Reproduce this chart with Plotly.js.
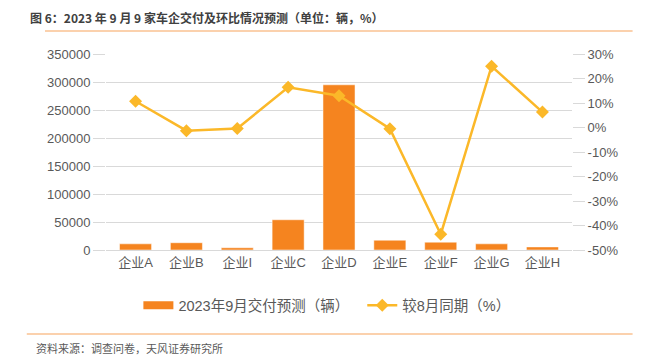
<!DOCTYPE html>
<html>
<head>
<meta charset="utf-8">
<script src="https://cdn.plot.ly/plotly-3.0.1.min.js"></script>
<style>html,body{margin:0;padding:0;background:#fff;}#chart{width:649px;height:361px;}</style>
</head>
<body>
<div id="chart"></div>
<script>
const categories = ["企业A","企业B","企业I","企业C","企业D","企业E","企业F","企业G","企业H"];
const deliveries = [11000, 13000, 4000, 54000, 295000, 17500, 14000, 11000, 5500];
const momChange = [10.7, -1.3, -0.4, 16.4, 13.0, -0.5, -43.6, 25.0, 6.3];
const leftTicks = [0, 50000, 100000, 150000, 200000, 250000, 300000, 350000];
const rightTicks = [-50, -40, -30, -20, -10, 0, 10, 20, 30];

const font = "'Liberation Sans', 'Noto Sans CJK SC', sans-serif";
const barColor = '#F5841F';
const lineColor = '#FBB829';
const data = [
  {type:'bar', x:categories, y:deliveries, name:'2023年9月交付预测（辆）', showlegend:false,
   marker:{color:barColor, line:{color:'#FFFFFF', width:0.5}}, width:0.63, yaxis:'y'},
  {type:'scatter', mode:'lines', x:[null], y:[null], name:'2023年9月交付预测（辆）  ', showlegend:true,
   line:{color:barColor, width:8}, hoverinfo:'skip', yaxis:'y'},
  {type:'scatter', mode:'lines+markers', x:categories, y:momChange, name:'较8月同期（%）',
   line:{color:lineColor, width:2.5}, marker:{symbol:'diamond', size:10, color:lineColor}, yaxis:'y2'}
];
const layout = {
  width:649, height:361,
  margin:{l:106, r:77, t:54, b:111},
  paper_bgcolor:'#fff', plot_bgcolor:'#fff',
  font:{family:font, color:'#595959', size:13},
  showlegend:true,
  legend:{orientation:'h', x:0.474, xanchor:'center', y:-0.2, yanchor:'top', font:{size:14.5, color:'#595959'}, traceorder:'normal', itemwidth:30},
  xaxis:{type:'category', tickvals:categories, ticktext:categories, showgrid:false, showline:true, linecolor:'#D9D9D9', linewidth:1, ticks:'', tickfont:{size:13}, fixedrange:true},
  yaxis:{range:[0,350000], tickvals:leftTicks, ticktext:leftTicks.map(String), showgrid:true, gridcolor:'#D9D9D9', gridwidth:1, zeroline:false, ticks:'outside', ticklen:12, tickcolor:'#D9D9D9', tickfont:{size:13}, showline:false},
  yaxis2:{overlaying:'y', side:'right', range:[-50,30], tickvals:rightTicks, ticktext:rightTicks.map(v=>v+'%'), showgrid:false, zeroline:false, ticks:'outside', ticklen:12, tickcolor:'#D9D9D9', tickfont:{size:13}},
  shapes:[
    {type:'line', xref:'paper', yref:'paper', x0:-0.131, x1:1.13, y0:1.0+ (54-31)/196, y1:1.0+(54-31)/196, line:{color:'#F7A35C', width:1.2}},
    {type:'line', xref:'paper', yref:'paper', x0:-0.17, x1:1.13, y0:-(334-250)/196, y1:-(334-250)/196, line:{color:'#F7A35C', width:1.2}}
  ],
  annotations:[
    {xref:'paper', yref:'paper', x:-(106-28)/466, y:1+(54-17)/196, xanchor:'left', yanchor:'middle', showarrow:false,
     text:'<b>图 6：2023 年 9 月 9 家车企交付及环比情况预测（单位：辆，%）</b>', font:{family:"'Noto Sans CJK SC', sans-serif", size:12, color:'#404040'}},
    {xref:'paper', yref:'paper', x:-(106-34)/466, y:-(348-250)/196, xanchor:'left', yanchor:'middle', showarrow:false,
     text:'资料来源：调查问卷，天风证券研究所', font:{family:"'Noto Sans CJK SC', sans-serif", size:11, color:'#595959'}}
  ]
};
Plotly.newPlot('chart', data, layout, {displayModeBar:false, staticPlot:true});
</script>
</body>
</html>
